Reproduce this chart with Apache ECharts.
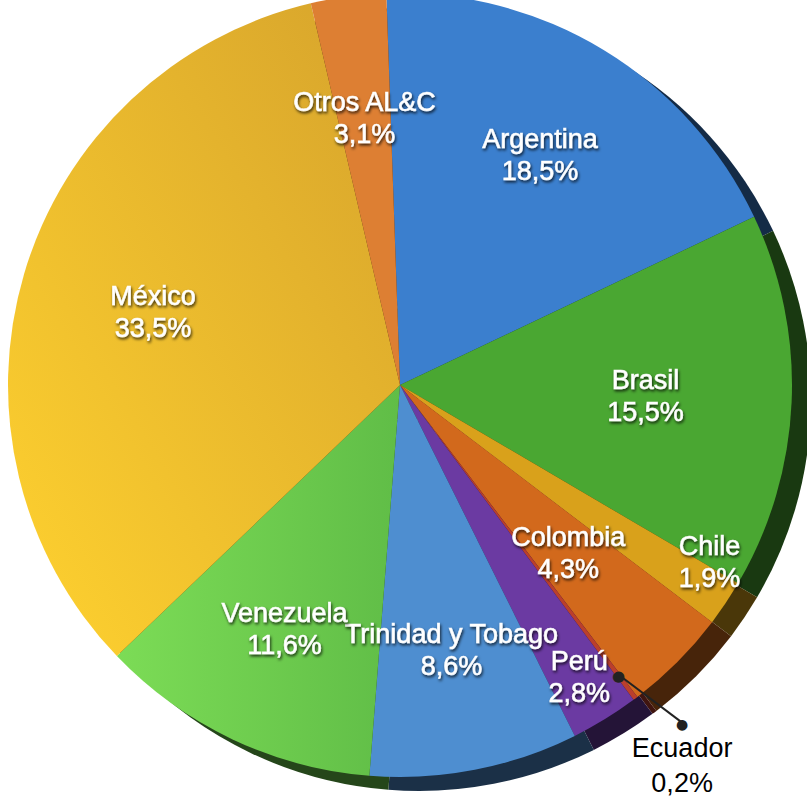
<!DOCTYPE html>
<html>
<head>
<meta charset="utf-8">
<title>Participación por país</title>
<script src="https://cdn.jsdelivr.net/npm/echarts@6.0.0/dist/echarts.min.js"></script>
<style>
  html, body { margin: 0; padding: 0; background: #ffffff; }
  #chart { width: 807px; height: 802px; }
</style>
</head>
<body>
<div id="chart"></div>
<script>
// Shares per country (%), clockwise from 12 o'clock
const categories = ['Argentina', 'Brasil', 'Chile', 'Colombia', 'Ecuador', 'Perú',
                    'Trinidad y Tobago', 'Venezuela', 'México', 'Otros AL&C'];
const shares = [18.5, 15.5, 1.9, 4.3, 0.2, 2.8, 8.6, 11.6, 33.5, 3.1];

// Slice with an outside callout instead of an inside label
const calloutLabels = ['Ecuador'];

// Slice colours
const sliceColors = ['#3b7fce', '#4aa732', '#d9a11b', '#d2691c', '#bb3f2c', '#6b3aa2',
                     '#4e8ed0', '#6ccf4c', '#e2ac2e', '#dd7f33'];

// Radial position of each inside label (fraction of the radius) and small angular nudges (degrees)
const DEFAULT_LABEL_RADIUS = 0.68;
const labelRadius = { 'Brasil': 0.62, 'Colombia': 0.6, 'Chile': 0.9, 'Perú': 0.865, 'México': 0.65 };
const labelTurn = { 'Chile': -4 };

const R = 392;
const CENTER = [400, 385];
const SIDE_CENTER = [419, 399];   // side wall shows toward the lower right
const START_ANGLE = 92;
const ANCHOR_RADIUS = 0.92;        // where the callout leader starts

const fmtPct = v => v.toFixed(1).replace('.', ',') + '%';

function darken(hex, f) {
  const n = parseInt(hex.slice(1), 16);
  const r = Math.round(((n >> 16) & 255) * f);
  const g = Math.round(((n >> 8) & 255) * f);
  const b = Math.round((n & 255) * f);
  return 'rgb(' + r + ',' + g + ',' + b + ')';
}

function faceColor(name, i) {
  if (name === 'México') {
    return new echarts.graphic.LinearGradient(1, 0, 0, 1, [
      { offset: 0, color: '#d6a32c' }, { offset: 1, color: '#ffd22f' }]);
  }
  if (name === 'Venezuela') {
    return new echarts.graphic.LinearGradient(0, 0, 1, 0, [
      { offset: 0, color: '#7cdc56' }, { offset: 1, color: '#60bd47' }]);
  }
  return sliceColors[i];
}

const FONT = 'Liberation Sans, Arial, sans-serif';

const labelFont = {
  fontFamily: FONT,
  fontSize: 27,
  lineHeight: 32,
  color: '#ffffff',
  textBorderColor: 'rgba(255,255,255,0.85)',
  textBorderWidth: 0.6,
  textShadowColor: 'rgba(0,0,0,0.8)',
  textShadowBlur: 3,
  textShadowOffsetX: 1,
  textShadowOffsetY: 2
};

const basePie = {
  type: 'pie',
  startAngle: START_ANGLE,
  clockwise: true,
  animation: false,
  avoidLabelOverlap: false,
  minAngle: 0,
  padAngle: 0,
  silent: true,
  emphasis: { disabled: true },
  labelLine: { show: false }
};

// side wall of the disc
const sideData = categories.map((name, i) => ({
  name, value: shares[i], itemStyle: { color: darken(sliceColors[i], 0.34) }
}));

// top face
const faceData = categories.map((name, i) => ({
  name, value: shares[i], itemStyle: { color: faceColor(name, i) }
}));

// label carrier: transparent sectors that only hold the text
const labelData = categories.map((name, i) => {
  const item = { name, value: shares[i] };
  if (calloutLabels.includes(name)) {
    item.label = {
      position: 'outside',
      distanceToLabelLine: 0,
      formatter: p => '{dot|●}\n{name|' + p.name + '}\n{val|' + fmtPct(p.value) + '}',
      rich: {
        dot: { fontSize: 14, lineHeight: 2, color: '#222222', fontFamily: 'DejaVu Sans' },
        name: { fontSize: 27, lineHeight: 46, color: '#000000', fontFamily: FONT },
        val: { fontSize: 27, lineHeight: 24, color: '#000000', fontFamily: FONT }
      },
      textBorderWidth: 0,
      textShadowBlur: 0, textShadowColor: 'transparent', textShadowOffsetX: 0, textShadowOffsetY: 0
    };
    item.labelLine = { show: true, length: 40, length2: 0, lineStyle: { color: '#222222', width: 2 } };
  }
  return item;
});

// small anchor dot where the callout leader starts
const dotData = categories.map((name, i) => ({
  name, value: shares[i],
  label: { show: calloutLabels.includes(name) }
}));

const CALLOUT_LEN = 82;
const CALLOUT_DIR = 127 * Math.PI / 180;  // clockwise from 12 o'clock

function placeLabel(p) {
  const name = categories[p.dataIndex];
  if (calloutLabels.includes(name)) {
    // leader runs from the anchor dot down-right, text hangs below its end
    const pts = p.labelLinePoints;
    if (!pts || !pts.length) return { align: 'center', verticalAlign: 'top' };
    const s = [CENTER[0] + (pts[0][0] - CENTER[0]) * ANCHOR_RADIUS,
               CENTER[1] + (pts[0][1] - CENTER[1]) * ANCHOR_RADIUS];
    const e = [s[0] + CALLOUT_LEN * Math.sin(CALLOUT_DIR), s[1] - CALLOUT_LEN * Math.cos(CALLOUT_DIR)];
    return { x: e[0], y: e[1], align: 'center', verticalAlign: 'top', labelLinePoints: [s, e, e] };
  }
  // push the label along its bisector to its own ring, with an optional small turn
  const k = (labelRadius[name] || DEFAULT_LABEL_RADIUS) / DEFAULT_LABEL_RADIUS;
  const turn = (labelTurn[name] || 0) * Math.PI / 180;
  const lr = p.labelRect;
  const vx = (lr.x + lr.width / 2 - CENTER[0]) * k;
  const vy = (lr.y + lr.height / 2 - CENTER[1]) * k;
  return {
    x: CENTER[0] + vx * Math.cos(turn) - vy * Math.sin(turn),
    y: CENTER[1] + vx * Math.sin(turn) + vy * Math.cos(turn),
    align: 'center', verticalAlign: 'middle', hideOverlap: false
  };
}

const chart = echarts.init(document.getElementById('chart'), null, { renderer: 'svg' });
chart.setOption({
  backgroundColor: '#ffffff',
  series: [
    Object.assign({}, basePie, {
      name: 'side', z: 1,
      center: SIDE_CENTER, radius: [0, R],
      itemStyle: { borderWidth: 0 },
      label: { show: false },
      data: sideData
    }),
    Object.assign({}, basePie, {
      name: 'face', z: 2,
      center: CENTER, radius: [0, R],
      itemStyle: { borderWidth: 0 },
      label: { show: false },
      data: faceData
    }),
    Object.assign({}, basePie, {
      name: 'labels', z: 3,
      center: CENTER, radius: [R * (2 * DEFAULT_LABEL_RADIUS - 1), R],
      itemStyle: { color: 'rgba(0,0,0,0)', borderWidth: 0 },
      label: Object.assign({ show: true, position: 'inside', formatter: p => p.name + '\n' + fmtPct(p.value) }, labelFont),
      labelLayout: placeLabel,
      data: labelData
    }),
    Object.assign({}, basePie, {
      name: 'callout-anchor', z: 4,
      center: CENTER, radius: [R * (ANCHOR_RADIUS - 0.03), R * (ANCHOR_RADIUS + 0.03)],
      itemStyle: { color: 'rgba(0,0,0,0)', borderWidth: 0 },
      label: {
        position: 'inside', formatter: '●', color: '#222222',
        fontSize: 15, fontFamily: 'DejaVu Sans', textBorderWidth: 0
      },
      data: dotData
    })
  ]
});
</script>
</body>
</html>
